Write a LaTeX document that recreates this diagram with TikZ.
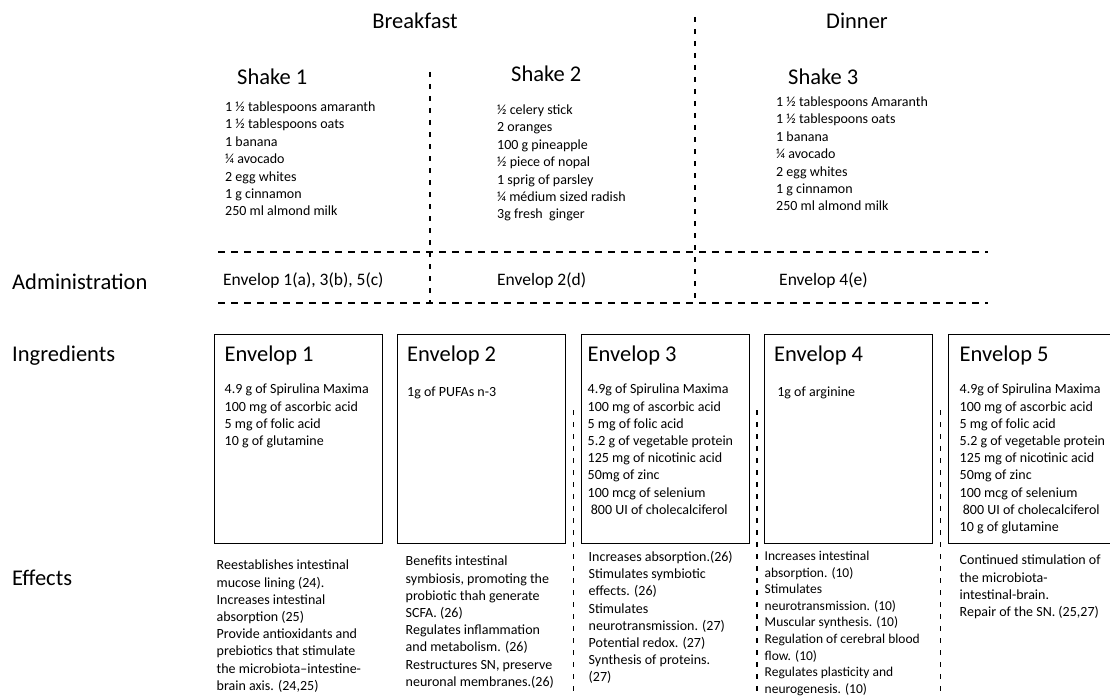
\documentclass[tikz,border=0pt]{standalone}
\usepackage{fontspec}
\setmainfont{Carlito}
\usetikzlibrary{calc,positioning}

\begin{document}
\begin{tikzpicture}[x=1pt,y=-1pt,node distance=183.5pt,
  big/.style={font=\fontsize{22.5}{27}\selectfont,inner sep=0pt,text height=16pt,text depth=5pt},
  mid/.style={font=\fontsize{17.5}{21}\selectfont,inner sep=0pt,anchor=west,text height=12.5pt,text depth=3.5pt},
  small/.style={font=\fontsize{14}{17.2}\selectfont,inner sep=0pt,align=left,anchor=north west,execute at begin node=\strut},
  envbox/.style={draw,line width=1pt,minimum width=168pt,minimum height=209pt,inner sep=0pt},
  hsep/.style={line width=1.3pt,dash pattern=on 7pt off 6pt},
  vsep/.style={line width=1.5pt,dash pattern=on 5pt off 7pt}]
  \useasboundingbox (0,0) rectangle (1110,698);
  \clip (0,0) rectangle (1110,698);

  \node[big] (breakfast) at (415,23) {Breakfast};
  \node[big] (dinner) at (857,23) {Dinner};

  \node[big,anchor=west] (sh1) at (237,79) {Shake 1};
  \node[big,anchor=west] (sh2) at (511,76) {Shake 2};
  \node[big,anchor=west] (sh3) at (788,79) {Shake 3};

  \node[small,font=\fontsize{14}{17.4}\selectfont] (sh1_list) at ($(sh1.west)+(-12,22.5)$) {1 ½ tablespoons amaranth\\1 ½ tablespoons oats\\1 banana\\¼ avocado\\2 egg whites\\1 g cinnamon\\250 ml almond milk};
  \node[small,font=\fontsize{14}{17.4}\selectfont] (sh2_list) at ($(sh2.west)+(-14,28.5)$) {½ celery stick\\2 oranges\\100 g pineapple\\½ piece of nopal\\1 sprig of parsley\\¼ médium sized radish\\3g fresh\ \ ginger};
  \node[small,font=\fontsize{14}{17.4}\selectfont] (sh3_list) at ($(sh3.west)+(-12,17.5)$) {1 ½ tablespoons Amaranth\\1 ½ tablespoons oats\\1 banana\\¼ avocado\\2 egg whites\\1 g cinnamon\\250 ml almond milk};

  %%%%

  \node[big,anchor=west] (adm) at (12,284) {Administration};
  \node[big,anchor=west] (ing) at (12,356) {Ingredients};
  \node[big,anchor=west] (eff) at (12,580) {Effects};

  \coordinate (adm_tl) at (218,252);
  \coordinate (adm_tr) at (988,252);
  \coordinate (adm_bl) at (218,303);
  \coordinate (adm_br) at (988,303);
  \draw[hsep] (adm_tl) -- (adm_tr);
  \draw[hsep] (adm_bl) -- (adm_br);

  \node[mid] (adm1) at (223,281) {Envelop 1(a), 3(b), 5(c)};
  \node[mid] (adm2) at (497,281) {Envelop 2(d)};
  \node[mid] (adm4) at (779,281) {Envelop 4(e)};

  \coordinate (v1_top) at (430,72);
  \coordinate (v2_top) at (695,17);
  \draw[vsep] (v1_top) -- (v1_top |- adm_bl);
  \draw[vsep] (v2_top) -- (v2_top |- adm_bl);

  %%%%

  \node[envbox] (env1) at (298,438.5) {};
  \node[envbox,right of=env1] (env2) {};
  \node[envbox,right of=env2] (env3) {};
  \node[envbox,right of=env3] (env4) {};
  \node[envbox,right of=env4] (env5) {};

  \node[big,anchor=west] (env1_t) at ($(env1.north west)+(11,22)$) {Envelop 1};
  \node[big,anchor=west] (env2_t) at ($(env2.north west)+(10,22)$) {Envelop 2};
  \node[big,anchor=west] (env3_t) at ($(env3.north west)+(7,22)$) {Envelop 3};
  \node[big,anchor=west] (env4_t) at ($(env4.north west)+(10,22)$) {Envelop 4};
  \node[big,anchor=west] (env5_t) at ($(env5.north west)+(12,22)$) {Envelop 5};

  \node[small] (env1_l) at ($(env1.north west)+(11,50.5)$) {4.9 g of Spirulina Maxima\\100 mg of ascorbic acid\\5 mg of folic acid\\10 g of glutamine};
  \node[small] (env2_l) at ($(env2.north west)+(10,50.5)$) {1g of PUFAs n-3};
  \node[small] (env3_l) at ($(env3.north west)+(7,50.5)$) {4.9g of Spirulina Maxima\\100 mg of ascorbic acid\\5 mg of folic acid\\5.2 g of vegetable protein\\125 mg of nicotinic acid\\50mg of zinc\\100 mcg of selenium\\\ 800 UI of cholecalciferol};
  \node[small] (env4_l) at ($(env4.north west)+(10,50.5)$) {\ 1g of arginine};
  \node[small] (env5_l) at ($(env5.north west)+(12,50.5)$) {4.9g of Spirulina Maxima\\100 mg of ascorbic acid\\5 mg of folic acid\\5.2 g of vegetable protein\\125 mg of nicotinic acid\\50mg of zinc\\100 mcg of selenium\\\ 800 UI of cholecalciferol\\10 g of glutamine};

  %%%%

  \node[small] (eff1) at ($(env1.south west)+(3,16.5)$) {Reestablishes intestinal\\mucose lining (24).\\Increases intestinal\\absorption (25)\\Provide antioxidants and\\prebiotics that stimulate\\the microbiota–intestine-\\brain axis. (24,25)};
  \node[small] (eff2) at ($(env2.south west)+(8.5,12.5)$) {Benefits intestinal\\symbiosis, promoting the\\probiotic thah generate\\SCFA. (26)\\Regulates inflammation\\and metabolism. (26)\\Restructures SN, preserve\\neuronal membranes.(26)};
  \node[small] (eff3) at ($(env3.south west)+(8,7.5)$) {Increases absorption.(26)\\Stimulates symbiotic\\effects. (26)\\Stimulates\\neurotransmission. (27)\\Potential redox. (27)\\Synthesis of proteins.\\(27)};
  \node[small,font=\fontsize{13.5}{16.6}\selectfont] (eff4) at ($(env4.south west)+(0.5,7.5)$) {Increases intestinal\\absorption. (10)\\Stimulates\\neurotransmission. (10)\\Muscular synthesis. (10)\\Regulation of cerebral blood\\flow. (10)\\Regulates plasticity and\\neurogenesis. (10)};
  \node[small] (eff5) at ($(env5.south west)+(12,11.5)$) {Continued stimulation of\\the microbiota-\\intestinal-brain.\\Repair of the SN. (25,27)};

  \coordinate (d1_top) at ($(env2.east)!0.5!(env3.west)+(0,-28.5)$);
  \coordinate (d2_top) at ($(env3.east)!0.5!(env4.west)+(0,-28.5)$);
  \coordinate (d3_top) at ($(env4.east)!0.5!(env5.west)+(0,-28.5)$);
  \draw[vsep] (d1_top) -- ++(0,288);
  \draw[vsep] (d2_top) -- ++(0,288);
  \draw[vsep] (d3_top) -- ++(0,288);

\end{tikzpicture}
\end{document}
